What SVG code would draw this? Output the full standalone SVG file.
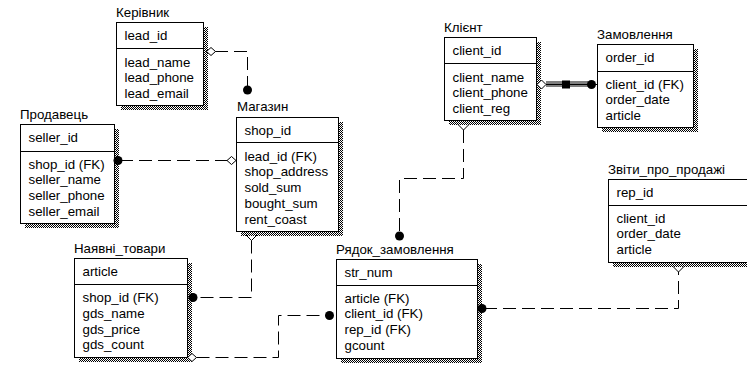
<svg xmlns="http://www.w3.org/2000/svg" width="747" height="365" viewBox="0 0 747 365">
<style>
text{font-family:"Liberation Sans",Arial,sans-serif;font-size:13.3px;fill:#000}
.box{fill:#fff;stroke:#000;stroke-width:1}
.div{stroke:#000;stroke-width:1}
.sh{fill:url(#dither)}
.con{fill:none;stroke:#000;stroke-width:1}
.dash{stroke-dasharray:13 6}
.dot{fill:#000}
.dia{fill:#fff;stroke:#000;stroke-width:1}
</style>
<defs>
<pattern id="dither" width="2" height="2" patternUnits="userSpaceOnUse">
<rect width="2" height="2" fill="#fff"/>
<rect width="1" height="1" fill="#000"/>
<rect x="1" y="1" width="1" height="1" fill="#000"/>
</pattern>
</defs>
<rect width="747" height="365" fill="#fff"/>

<g id="kerivnyk">
<text x="116" y="17">Керівник</text>
<rect class="sh" x="121" y="27" width="87" height="83"/>
<rect class="box" x="116.5" y="22.5" width="87" height="83"/>
<line class="div" x1="116" y1="48.5" x2="203" y2="48.5"/>
<text x="124.5" y="40">lead_id</text>
<text x="124.5" y="66.5">lead_name</text>
<text x="124.5" y="82.3">lead_phone</text>
<text x="124.5" y="98.1">lead_email</text>
</g>

<g id="mahazyn">
<text x="237" y="111">Магазин</text>
<rect class="sh" x="241" y="122" width="102" height="114"/>
<rect class="box" x="236.5" y="117.5" width="102" height="114"/>
<line class="div" x1="236" y1="142.5" x2="338" y2="142.5"/>
<text x="244.5" y="135">shop_id</text>
<text x="244.5" y="160.5">lead_id (FK)</text>
<text x="244.5" y="176.3">shop_address</text>
<text x="244.5" y="192.1">sold_sum</text>
<text x="244.5" y="207.9">bought_sum</text>
<text x="244.5" y="223.7">rent_coast</text>
</g>

<g id="prodavets">
<text x="20" y="118.5">Продавець</text>
<rect class="sh" x="25" y="129" width="94" height="99"/>
<rect class="box" x="20.5" y="124.5" width="94" height="99"/>
<line class="div" x1="20" y1="151.5" x2="114" y2="151.5"/>
<text x="28.5" y="142">seller_id</text>
<text x="28.5" y="168.5">shop_id (FK)</text>
<text x="28.5" y="184.3">seller_name</text>
<text x="28.5" y="200.1">seller_phone</text>
<text x="28.5" y="215.9">seller_email</text>
</g>

<g id="nayavni_tovary">
<text x="74" y="253">Наявні_товари</text>
<rect class="sh" x="79" y="263" width="113" height="99"/>
<rect class="box" x="74.5" y="258.5" width="113" height="99"/>
<line class="div" x1="74" y1="284.5" x2="187" y2="284.5"/>
<text x="82.5" y="276">article</text>
<text x="82.5" y="302">shop_id (FK)</text>
<text x="82.5" y="317.8">gds_name</text>
<text x="82.5" y="333.6">gds_price</text>
<text x="82.5" y="349.4">gds_count</text>
</g>

<g id="ryadok_zamovlennya">
<text x="336" y="254">Рядок_замовлення</text>
<rect class="sh" x="341" y="264" width="141" height="99"/>
<rect class="box" x="336.5" y="259.5" width="141" height="99"/>
<line class="div" x1="336" y1="285.5" x2="477" y2="285.5"/>
<text x="344.5" y="277">str_num</text>
<text x="344.5" y="302.5">article (FK)</text>
<text x="344.5" y="318.3">client_id (FK)</text>
<text x="344.5" y="334.1">rep_id (FK)</text>
<text x="344.5" y="349.9">gcount</text>
</g>

<g id="zvity_pro_prodazhi">
<text x="608" y="174">Звіти_про_продажі</text>
<rect class="sh" x="613" y="184" width="150" height="83"/>
<rect class="box" x="608.5" y="179.5" width="150" height="83"/>
<line class="div" x1="608" y1="205.5" x2="758" y2="205.5"/>
<text x="616.5" y="197">rep_id</text>
<text x="616.5" y="222.5">client_id</text>
<text x="616.5" y="238.3">order_date</text>
<text x="616.5" y="254.1">article</text>
</g>

<g id="kliyent">
<text x="444" y="32">Клієнт</text>
<rect class="sh" x="449" y="42" width="92" height="83"/>
<rect class="box" x="444.5" y="37.5" width="92" height="83"/>
<line class="div" x1="444" y1="63.5" x2="536" y2="63.5"/>
<text x="452.5" y="55">client_id</text>
<text x="452.5" y="81.5">client_name</text>
<text x="452.5" y="97.3">client_phone</text>
<text x="452.5" y="113.1">client_reg</text>
</g>

<g id="zamovlennya">
<text x="597" y="39">Замовлення</text>
<rect class="sh" x="602" y="49" width="96" height="83"/>
<rect class="box" x="597.5" y="44.5" width="96" height="83"/>
<line class="div" x1="597" y1="71.5" x2="693" y2="71.5"/>
<text x="605.5" y="62">order_id</text>
<text x="605.5" y="88.5">client_id (FK)</text>
<text x="605.5" y="104.3">order_date</text>
<text x="605.5" y="120.1">article</text>
</g>

<g id="connectors">
<!-- Керівник - Магазин -->
<path class="con dash" d="M215,51.5 H247.5 V88"/>
<polygon class="dia" points="206.5,51.5 211,47.5 215.5,51.5 211,55.5"/>
<circle class="dot" cx="247.5" cy="90" r="4.5"/>
<!-- Продавець - Магазин -->
<path class="con dash" d="M120,160.5 H227"/>
<circle class="dot" cx="118" cy="160.5" r="4.5"/>
<polygon class="dia" points="227,160.5 231.5,156.5 236,160.5 231.5,164.5"/>
<!-- Магазин - Наявні_товари -->
<path class="con" d="M246,235 L251.5,240.5 L257,235"/>
<path class="con dash" d="M251.5,240.5 V297.5 H195"/>
<circle class="dot" cx="193" cy="297.5" r="4.5"/>
<!-- Наявні_товари - Рядок_замовлення -->
<polygon class="dia" points="187.5,357.5 192,353.5 196.5,357.5 192,361.5"/>
<path class="con dash" d="M196.5,357.5 H278.5 V315.5 H327"/>
<circle class="dot" cx="329.5" cy="315.5" r="4.5"/>
<!-- Клієнт - Рядок_замовлення -->
<path class="con" d="M458,124.5 L463.5,130 L469,124.5"/>
<path class="con dash" d="M463.5,130 V178.5 H399.5 V234"/>
<circle class="dot" cx="399.5" cy="236" r="4.5"/>
<!-- Рядок_замовлення - Звіти_про_продажі -->
<circle class="dot" cx="482" cy="308.5" r="4.5"/>
<path class="con dash" d="M484,308.5 H678.5 V272"/>
<path class="con" d="M673,266.5 L678.5,272 L684,266.5"/>
<!-- Клієнт - Замовлення -->
<rect x="546" y="81" width="42" height="6" fill="#808080"/>
<line x1="546" y1="84.5" x2="588" y2="84.5" stroke="#000" stroke-width="1"/>
<rect x="562" y="80.5" width="8" height="8" fill="#000"/>
<polygon class="dia" points="537,84.5 541.5,80 546,84.5 541.5,89"/>
<circle class="dot" cx="591.5" cy="84.5" r="4.5"/>
<line x1="588" y1="84.5" x2="597" y2="84.5" stroke="#000" stroke-width="1"/>
</g>
</svg>
